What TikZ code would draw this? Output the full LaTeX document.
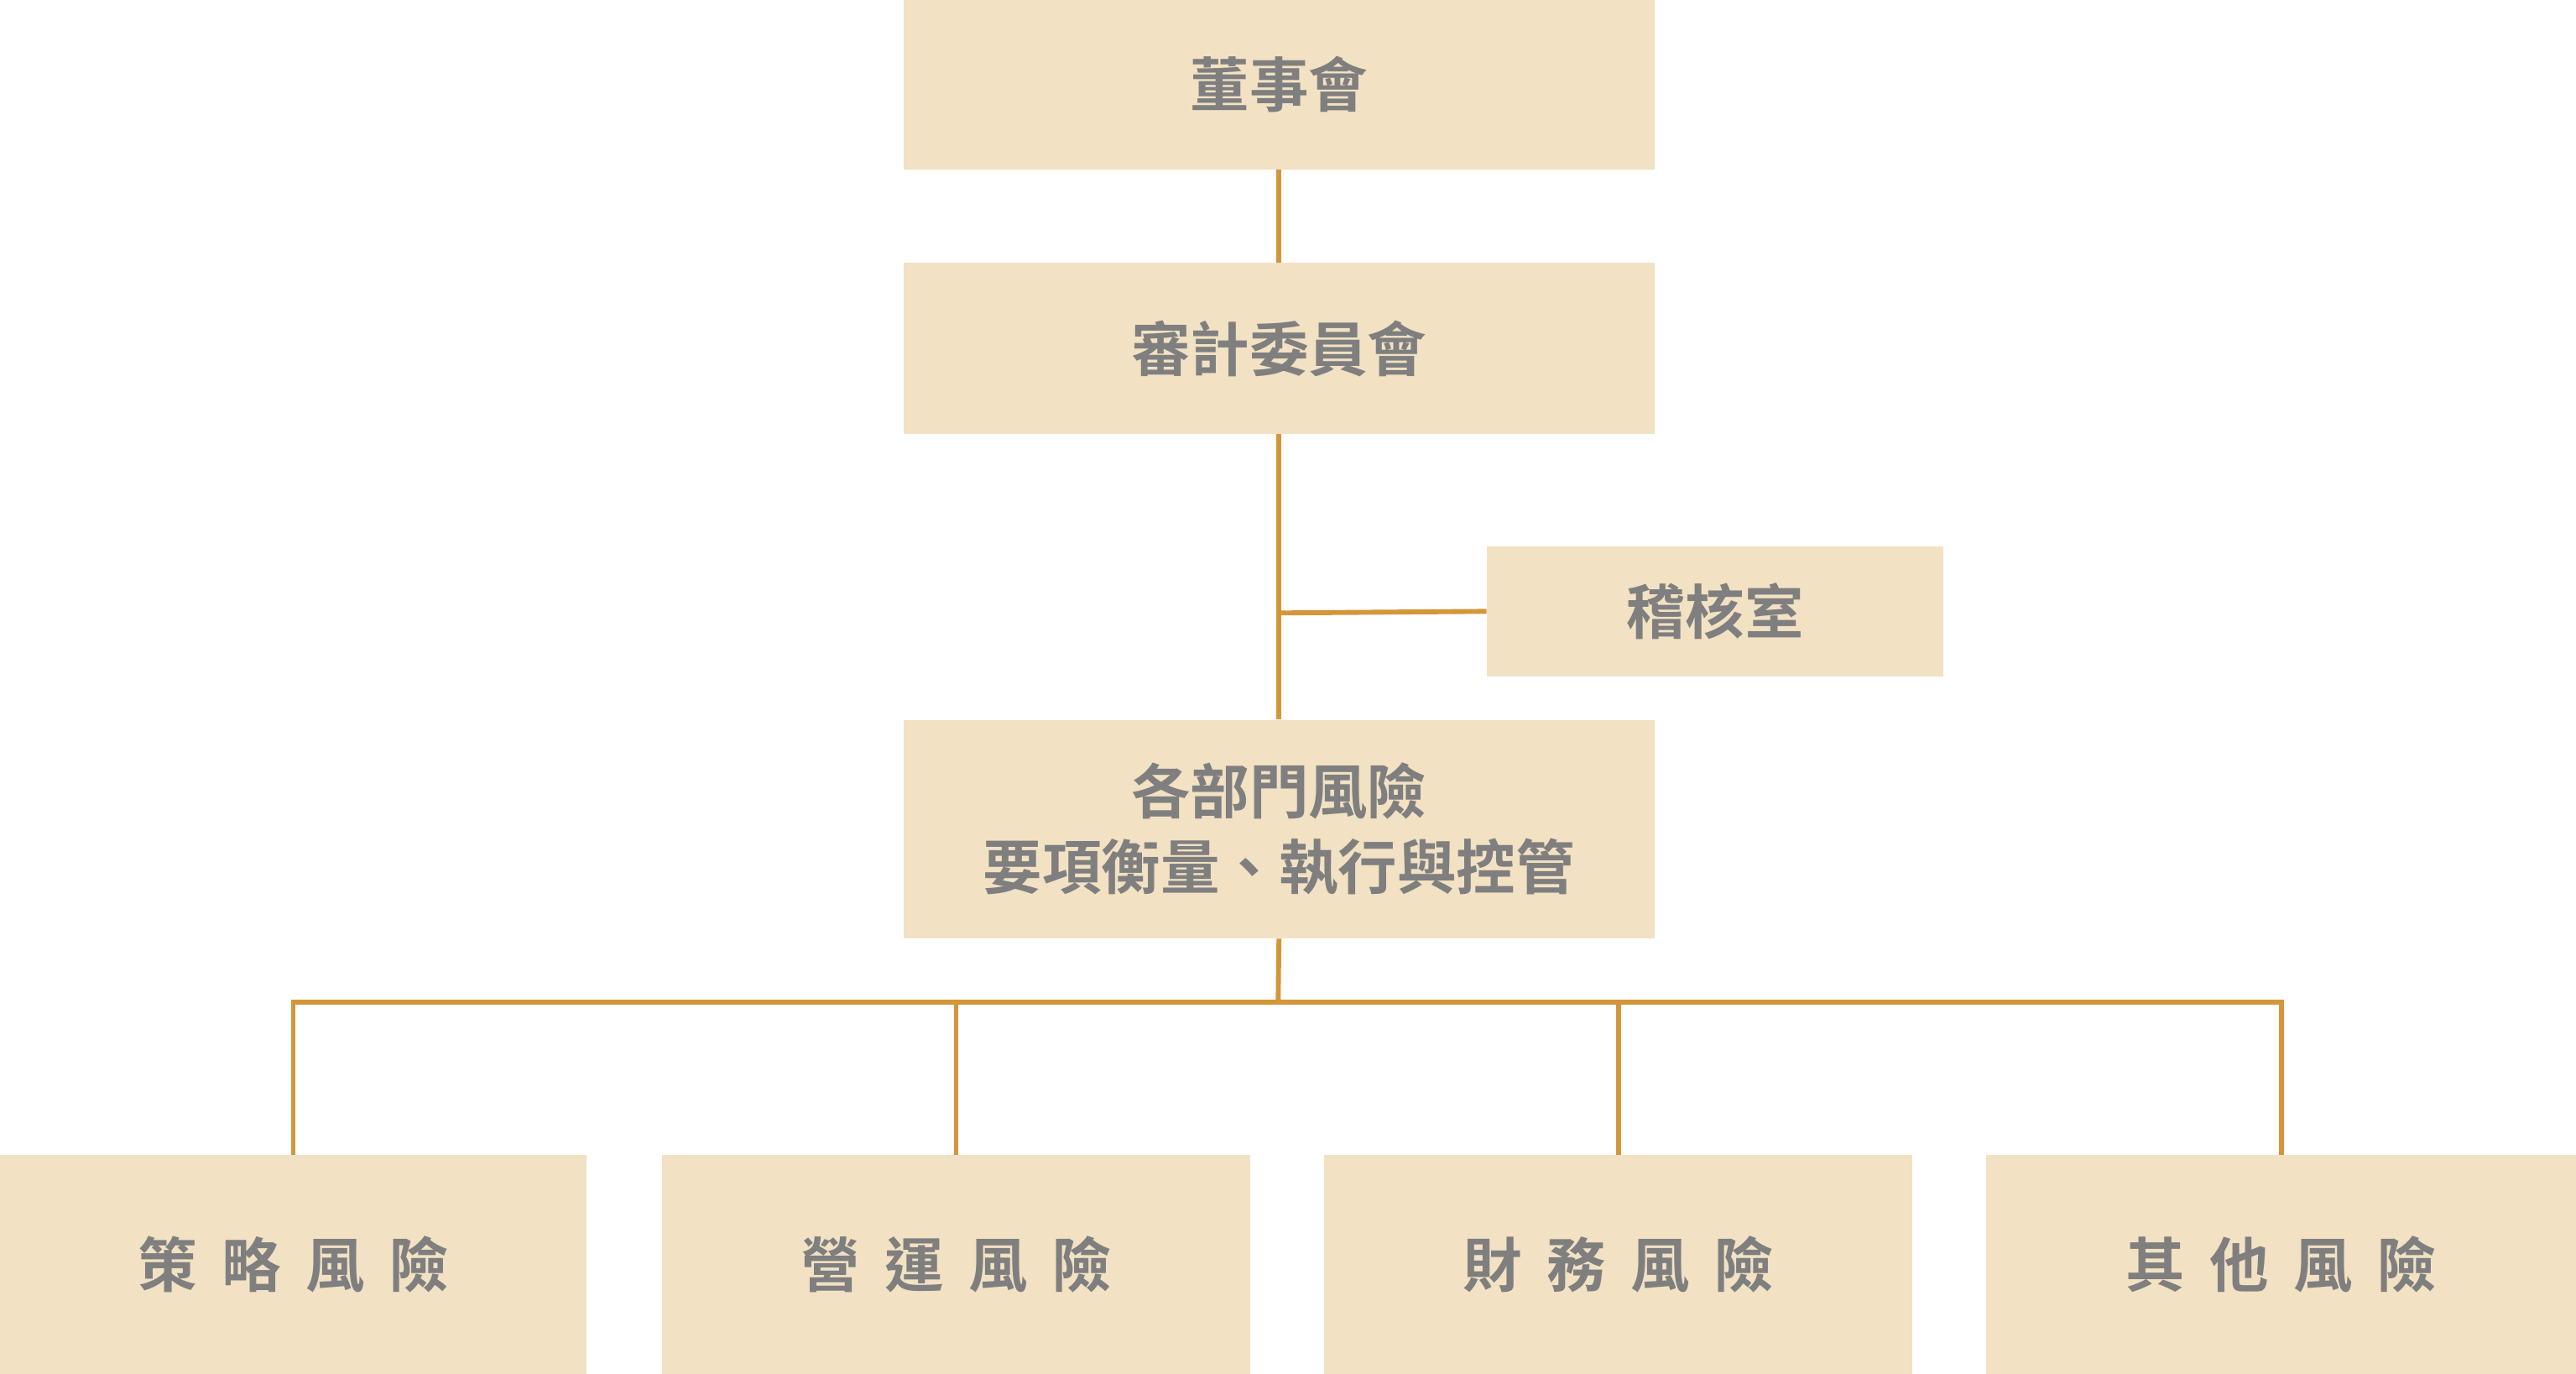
\documentclass[tikz,border=0pt]{standalone}
\usepackage{fontspec}
\setmainfont{Noto Sans CJK TC}[BoldFont={Noto Sans CJK TC Bold}]
\usetikzlibrary{positioning}
\definecolor{boxfill}{HTML}{F2E1C3}
\definecolor{linkline}{HTML}{D4963A}
\definecolor{boxtext}{HTML}{7F7F7F}
\newcommand{\gap}{\hspace{15pt}}

\begin{document}
\begin{tikzpicture}[x=1pt, y=-1pt, font=\bfseries\fontsize{36}{46}\selectfont,
  unit/.style={fill=boxfill, text=boxtext, inner sep=0pt, align=center},
  link/.style={draw=linkline, line width=3pt}]
  \useasboundingbox (0,0) rectangle (1568,836);
  \node (board) [unit, minimum width=457pt, minimum height=103pt] at (778.5,51.5) {董事會};
  \node (audit) [unit, minimum width=457pt, minimum height=104pt] at (778.5,212) {審計委員會};
  \node (inspect) [unit, minimum width=278pt, minimum height=79pt] at (1044,372) {稽核室};
  \node (dept) [unit, minimum width=457pt, minimum height=133pt] at (778.5,504.5) {各部門風險\\要項衡量、執行與控管};
  \node (strat) [unit, minimum width=357pt, minimum height=133pt] at (178.5,769.5) {策\gap 略\gap 風\gap 險};
  \node (oper) [unit, minimum width=358pt, minimum height=133pt] at (582,769.5) {營\gap 運\gap 風\gap 險};
  \node (fin) [unit, minimum width=358pt, minimum height=133pt] at (985,769.5) {財\gap 務\gap 風\gap 險};
  \node (other) [unit, minimum width=359pt, minimum height=133pt] at (1388.5,769.5) {其\gap 他\gap 風\gap 險};
  \coordinate (tap) at (778,373);
  \coordinate (bus) at (778,610);
  % connectors
  \draw[link] (board.south) -- (audit.north);
  \draw[link] (audit.south) -- (dept.north);
  \draw[link] (tap) -- (inspect.west);
  \draw[link] (dept.south) -- (bus);
  \draw[link] (strat.north) |- (bus) -| (other.north);
  \draw[link] (oper.north) -- (oper.north |- bus);
  \draw[link] (fin.north) -- (fin.north |- bus);
\end{tikzpicture}
\end{document}
